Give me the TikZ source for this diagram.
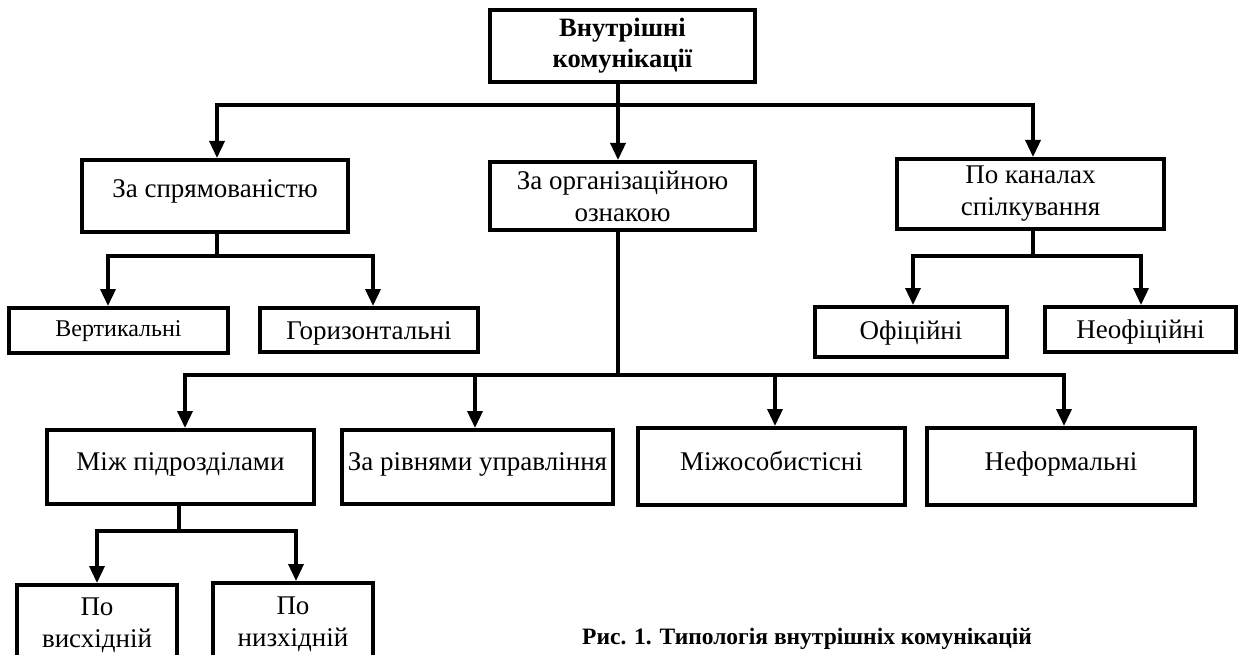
\documentclass[tikz,border=0pt]{standalone}
\usepackage{fontspec}
\setmainfont{Liberation Serif}
\usetikzlibrary{arrows.meta}
\begin{document}
\begin{tikzpicture}[x=1pt, y=-1pt,
  box/.style={draw, line width=4pt, inner sep=0pt, align=center,
    font=\fontsize{27}{32}\selectfont},
  line/.style n args={2}{text height=#1, text depth=#2},
  link/.style={line width=3.5pt},
  arr/.style={link, -{Triangle[length=17pt, width=15pt]}}]
\useasboundingbox (0,0) rectangle (1241,655);

% level 0
\node[box, minimum width=265pt, minimum height=72pt,
  font=\bfseries\fontsize{26.5}{31}\selectfont] (top) at (622.5,46) {Внутрішні\\комунікації};

% level 1
\node[box, line={12pt}{9pt}, minimum width=266pt, minimum height=72pt] (spr) at (215,196) {За спрямованістю};
\node[box, minimum width=265pt, minimum height=68pt] (org) at (622.5,196) {За організаційною\\ознакою};
\node[box, minimum width=267pt, minimum height=70pt] (kan) at (1030.5,194) {По каналах\\спілкування};

% level 2
\node[box, line={15pt}{3pt}, minimum width=219pt, minimum height=45pt,
  font=\fontsize{24}{28}\selectfont] (vert) at (118.5,330.5) {Вертикальні};
\node[box, line={20pt}{2pt}, minimum width=218pt, minimum height=44pt] (hor) at (369,330) {Горизонтальні};
\node[box, line={17pt}{3pt}, minimum width=192pt, minimum height=50pt] (ofi) at (911,332) {Офіційні};
\node[box, line={20pt}{2pt}, minimum width=191pt, minimum height=45pt] (neofi) at (1140.5,329.5) {Неофіційні};

% level 3
\node[box, line={14pt}{7pt}, minimum width=267pt, minimum height=74pt] (mizh) at (180.5,467) {Між підрозділами};
\node[box, line={14pt}{7pt}, minimum width=271pt, minimum height=74pt] (riv) at (477.5,467) {За рівнями управління};
\node[box, line={14pt}{7pt}, minimum width=267pt, minimum height=77pt] (mos) at (771.5,466.5) {Міжособистісні};
\node[box, line={14pt}{7pt}, minimum width=268pt, minimum height=77pt] (nef) at (1061,466.5) {Неформальні};

% level 4 (boxes run past the lower page edge)
\node[box, minimum width=160pt, minimum height=80pt] (vys) at (97,625) {По\\висхідній};
\node[box, minimum width=160pt, minimum height=82pt] (nyz) at (293,624) {По\\низхідній};

% caption
\node[anchor=base west, inner sep=0pt,
  font=\bfseries\fontsize{23.5}{28}\selectfont] (cap) at (582,644) {Рис. 1. Типологія внутрішніх комунікацій};

% connectors
\coordinate (j1) at (618,105);
\draw[link] (top.south -| j1) -- (j1);
\draw[arr] (j1) -| ([xshift=2pt]spr.north);
\draw[arr] (j1) -- (org.north -| j1);
\draw[arr] (j1) -| ([xshift=2.5pt]kan.north);

\coordinate (j2) at (217,256);
\draw[link] ([xshift=2pt]spr.south) -- (j2);
\draw[arr] (j2) -| ([xshift=-10.5pt]vert.north);
\draw[arr] (j2) -| ([xshift=4pt]hor.north);

\coordinate (j3) at (1033,256);
\draw[link] ([xshift=2.5pt]kan.south) -- (j3);
\draw[arr] (j3) -| ([xshift=2pt]ofi.north);
\draw[arr] (j3) -| ([xshift=0.5pt]neofi.north);

\coordinate (j4) at (618,375);
\draw[link] (org.south -| j4) -- (j4);
\draw[arr] (j4) -| ([xshift=4.5pt]mizh.north);
\draw[arr] (j4) -| ([xshift=-2.5pt]riv.north);
\draw[arr] (j4) -| ([xshift=3.5pt]mos.north);
\draw[arr] (j4) -| ([xshift=3pt]nef.north);

\coordinate (j5) at (179,531);
\draw[link] (mizh.south -| j5) -- (j5);
\draw[arr] (j5) -| (vys.north);
\draw[arr] (j5) -| ([xshift=3pt]nyz.north);
\end{tikzpicture}
\end{document}
